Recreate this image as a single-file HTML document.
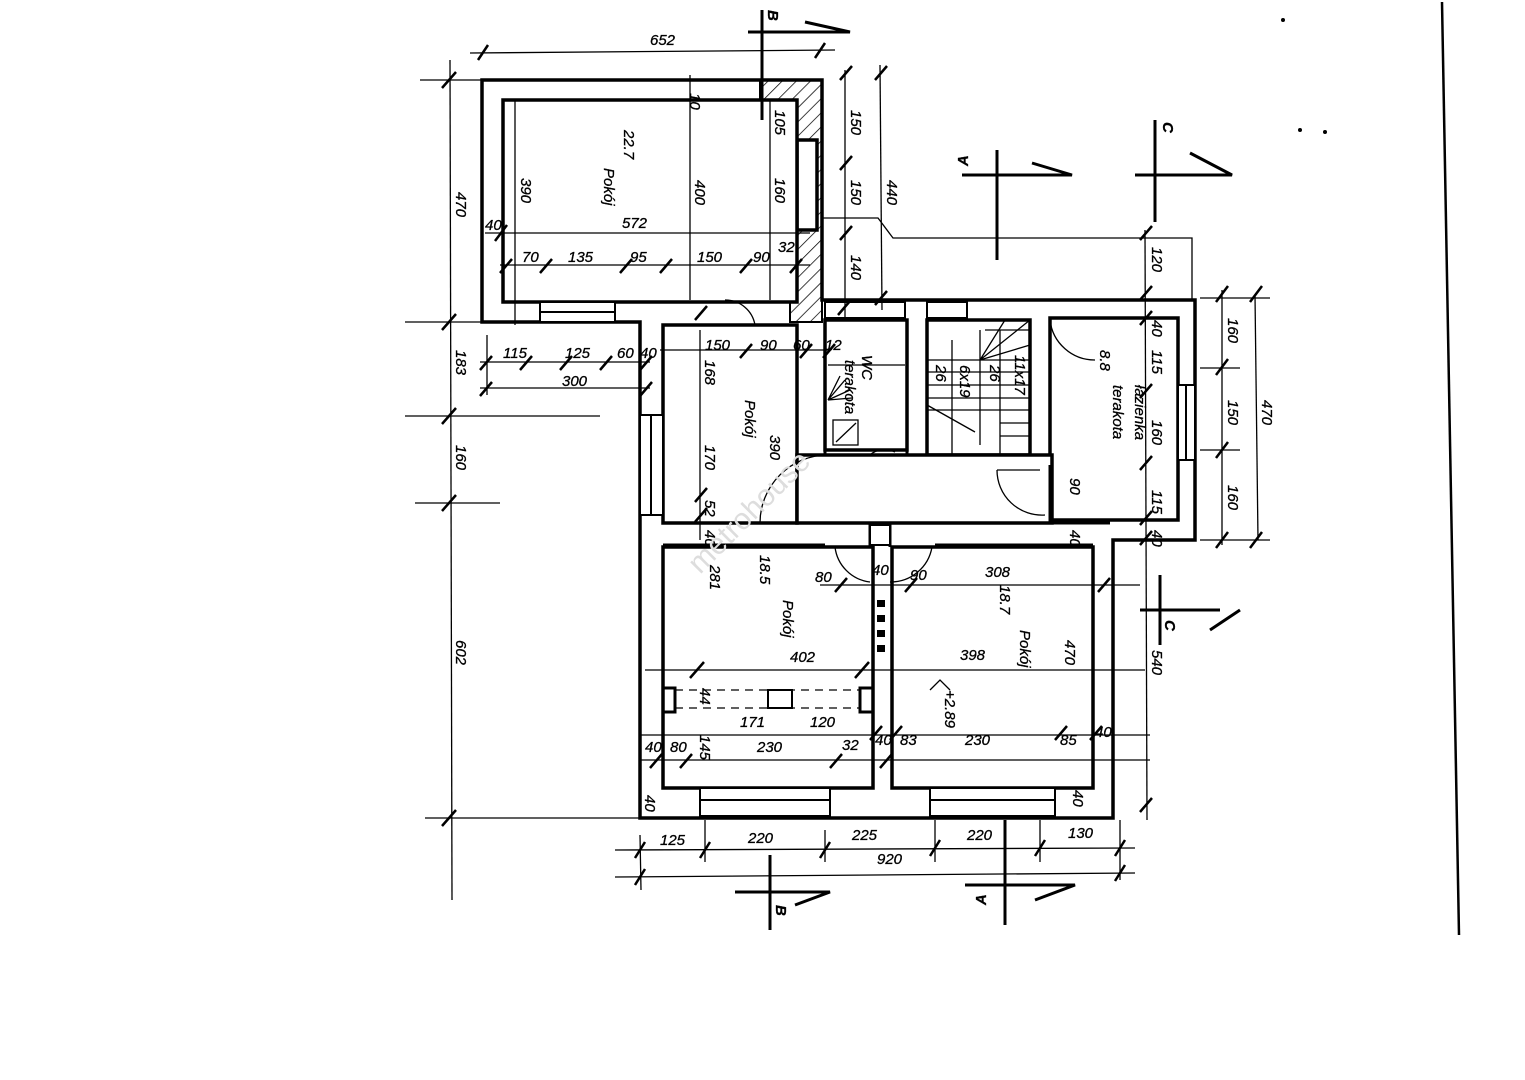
<!DOCTYPE html>
<html><head><meta charset="utf-8"><style>
html,body{margin:0;padding:0;background:#fff;}
svg{display:block;}
text{font-family:"Liberation Sans",sans-serif;font-style:italic;font-size:15px;fill:#000;stroke:#000;stroke-width:0.3;}
.w{fill:#fff;stroke:#000;stroke-width:3.5;}
.d{stroke:#000;stroke-width:1.3;fill:none;}
.t{stroke:#000;stroke-width:2.5;}
.s{stroke:#000;stroke-width:3;fill:none;}
</style></head><body>
<svg width="1525" height="1080" viewBox="0 0 1525 1080" xmlns="http://www.w3.org/2000/svg">
<defs>
<pattern id="h" width="10" height="10" patternUnits="userSpaceOnUse" patternTransform="rotate(45)">
<line x1="0" y1="0" x2="0" y2="10" stroke="#000" stroke-width="1.5"/></pattern>
</defs>
<rect width="1525" height="1080" fill="#fff"/>

<path class="d" d="M820 218 H878 L893 238 H1192 V300"/>

<path class="w" d="M482 80 H822 V300 H1195 V540 H1113 V818 H640 V322 H482 Z"/>
<path d="M760 80 H822 V322 H790 V230 H797 V100 H760 Z" fill="url(#h)" stroke="#000" stroke-width="2"/>
<rect x="797" y="140" width="20" height="90" class="w"/>
<rect class="w" x="503" y="100" width="294" height="202"/>
<rect class="w" x="663" y="325" width="134" height="198"/>
<rect class="w" x="825" y="320" width="82" height="130"/>
<rect class="w" x="927" y="320" width="103" height="135"/>
<rect class="w" x="1050" y="318" width="128" height="202"/>
<rect class="w" x="797" y="455" width="255" height="68" stroke="none"/>
<path class="s" d="M797 455 V523 H1050 M825 450 V455 H907 V450 M927 455 H1030 M1050 465 V523"/>
<rect class="w" x="663" y="547" width="210" height="241"/>
<rect class="w" x="892" y="547" width="201" height="241"/>
<rect x="663" y="525" width="430" height="20" fill="#fff"/>
<path class="s" d="M663 523 H825 M870 523 V547 M890 523 V547 M935 523 H1110 M663 545 H825 M935 545 H1093"/>
<rect x="870" y="525" width="20" height="20" fill="#fff" stroke="#000" stroke-width="2"/>
<path class="s" d="M663 688 H675 V712 H663 M873 688 H860 V712 H873"/>
<path d="M675 690 H860 M675 708 H860" stroke="#000" stroke-width="1.3" stroke-dasharray="8 6"/>
<rect x="768" y="690" width="24" height="18" fill="#fff" stroke="#000" stroke-width="2"/>
<g fill="#000"><rect x="877" y="600" width="8" height="7"/><rect x="877" y="615" width="8" height="7"/><rect x="877" y="630" width="8" height="7"/><rect x="877" y="645" width="8" height="7"/></g>

<g fill="#fff" stroke="#000" stroke-width="2">
<rect x="540" y="302" width="75" height="20"/><line x1="540" y1="312" x2="615" y2="312"/>
<rect x="640" y="415" width="23" height="100"/><line x1="651" y1="415" x2="651" y2="515"/>
<rect x="700" y="788" width="130" height="28"/><line x1="700" y1="800" x2="830" y2="800"/>
<rect x="930" y="788" width="125" height="28"/><line x1="930" y1="800" x2="1055" y2="800"/>
<rect x="1178" y="385" width="17" height="75"/><line x1="1186" y1="385" x2="1186" y2="460"/>
<rect x="825" y="302" width="80" height="16"/>
<rect x="927" y="302" width="40" height="16"/>
</g>

<g class="d" stroke-width="1.5">
<path d="M927 360 H1030 M927 372 H1030 M927 385 H1030 M927 398 H1030 M927 410 H1030 M1000 423 H1030 M1000 436 H1030"/>
<path d="M952 340 V455 M980 330 V445 M1000 330 V455 M985 330 H1030"/>
<path d="M927 405 L975 432 M980 360 L1030 320 M980 360 L1030 345 M980 360 L1005 320"/>
<rect x="833" y="420" width="25" height="25"/><line x1="836" y1="442" x2="856" y2="423"/>
<path d="M828 400 L845 380 M828 400 L850 390 M828 400 L840 376 M828 400 L852 398"/>
<path d="M828 365 H905"/>
</g>

<g class="d" stroke-width="1.5">
<path d="M797 523 H760 M760 523 A68 68 0 0 1 828 455"/>
<path d="M835 547 A40 40 0 0 0 870 582"/>
<path d="M890 582 A42 42 0 0 0 932 547"/>
<path d="M870 455 A22 22 0 0 1 895 452"/>
<path d="M1050 320 A45 45 0 0 0 1095 360"/>
<path d="M997 470 A45 45 0 0 0 1045 515 M997 470 H1040"/>
<path d="M725 300 A30 30 0 0 1 755 325"/>
</g>

<g class="d">
<line x1="470" y1="53" x2="835" y2="50"/>
<line x1="450" y1="60" x2="452" y2="900"/>
<line x1="420" y1="80" x2="485" y2="80"/><line x1="405" y1="322" x2="485" y2="322"/>
<line x1="405" y1="416" x2="600" y2="416"/><line x1="415" y1="503" x2="500" y2="503"/>
<line x1="425" y1="818" x2="640" y2="818"/>
<line x1="480" y1="362" x2="650" y2="362"/><line x1="480" y1="388" x2="650" y2="388"/>
<line x1="487" y1="335" x2="487" y2="395"/>
<line x1="485" y1="233" x2="810" y2="233"/>
<line x1="500" y1="265" x2="810" y2="265"/>
<line x1="515" y1="100" x2="515" y2="325"/>
<line x1="690" y1="75" x2="690" y2="300"/>
<line x1="770" y1="100" x2="770" y2="300"/>
<line x1="845" y1="70" x2="845" y2="320"/>
<line x1="880" y1="65" x2="882" y2="310"/>
<line x1="700" y1="330" x2="700" y2="540"/>
<line x1="660" y1="350" x2="830" y2="350"/>
<line x1="1145" y1="230" x2="1147" y2="820"/>
<line x1="1222" y1="290" x2="1222" y2="545"/>
<line x1="1255" y1="295" x2="1258" y2="540"/>
<line x1="1200" y1="298" x2="1270" y2="298"/><line x1="1200" y1="540" x2="1270" y2="540"/>
<line x1="1200" y1="368" x2="1240" y2="368"/><line x1="1200" y1="450" x2="1240" y2="450"/>
<line x1="645" y1="670" x2="1145" y2="670"/>
<line x1="640" y1="735" x2="1150" y2="735"/>
<line x1="640" y1="760" x2="1150" y2="760"/>
<line x1="820" y1="585" x2="1140" y2="585"/>
<line x1="615" y1="850" x2="1135" y2="848"/>
<line x1="615" y1="877" x2="1135" y2="873"/>
<line x1="640" y1="835" x2="641" y2="890"/><line x1="705" y1="820" x2="705" y2="862"/>
<line x1="825" y1="830" x2="825" y2="862"/><line x1="935" y1="820" x2="935" y2="862"/>
<line x1="1040" y1="820" x2="1040" y2="862"/><line x1="1120" y1="820" x2="1120" y2="880"/>
</g>
<g class="t">
<path d="M478 60 l10 -15 M815 58 l10 -15 M442 88 l14 -16 M442 330 l14 -16 M442 424 l14 -16 M442 511 l14 -16 M442 826 l14 -16
M480 370 l12 -14 M520 370 l12 -14 M560 370 l12 -14 M600 370 l12 -14 M640 370 l12 -14 M480 396 l12 -14 M640 396 l12 -14
M495 241 l12 -16 M500 273 l12 -14 M540 273 l12 -14 M620 273 l12 -14 M660 273 l12 -14 M740 273 l12 -14 M790 273 l12 -14
M840 80 l12 -14 M840 170 l12 -14 M840 240 l12 -14 M838 315 l12 -14 M875 80 l12 -14 M875 305 l12 -14
M1140 240 l12 -14 M1140 300 l12 -14 M1140 325 l12 -14 M1140 398 l12 -14 M1140 470 l12 -14 M1140 525 l12 -14 M1140 545 l12 -14 M1140 812 l12 -14
M1216 302 l12 -16 M1216 375 l12 -16 M1216 458 l12 -16 M1216 548 l12 -16 M1250 302 l12 -16 M1250 548 l12 -16
M635 858 l10 -16 M700 858 l10 -16 M820 858 l10 -16 M930 856 l10 -16 M1035 856 l10 -16 M1115 856 l10 -16 M635 885 l10 -16 M1115 881 l10 -16
M690 678 l14 -16 M855 678 l14 -16 M870 740 l12 -14 M890 740 l12 -14 M1055 740 l12 -14 M1090 740 l12 -14 M650 768 l12 -14 M680 768 l12 -14 M830 768 l12 -14 M880 768 l12 -14
M695 522 l12 -14 M695 502 l12 -14 M695 320 l12 -14 M740 358 l12 -14 M800 358 l12 -14 M823 358 l12 -14 M835 592 l12 -14 M905 592 l12 -14 M1098 592 l12 -14"/>
</g>

<g class="s">
<path d="M762 10 V120 M748 32 H850 L805 22"/>
<path d="M770 855 V930 M735 892 H830 L795 905"/>
<path d="M997 150 V260 M962 175 H1072 L1032 163"/>
<path d="M1005 820 V925 M965 885 H1075 L1035 900"/>
<path d="M1155 120 V222 M1135 175 H1232 L1190 153"/>
<path d="M1160 575 V645 M1140 610 H1220 M1240 610 L1210 630"/>
<path d="M1442 2 L1459 935" stroke-width="2.5"/>
</g>
<g style="font-style:normal;font-size:26px;font-weight:bold">
<text transform="translate(768,10) rotate(90)">B</text>
<text transform="translate(776,905) rotate(90)">B</text>
<text transform="translate(968,166) rotate(-90)">A</text>
<text transform="translate(986,905) rotate(-90)">A</text>
<text transform="translate(1163,122) rotate(90)">C</text>
<text transform="translate(1165,620) rotate(90)">C</text>
</g>

<text x="650" y="45">652</text>
<text x="503" y="358">115</text><text x="565" y="358">125</text><text x="617" y="358">60</text><text x="640" y="358">40</text>
<text x="562" y="386">300</text>
<text x="485" y="230">40</text><text x="622" y="228">572</text>
<text x="522" y="262">70</text><text x="568" y="262">135</text><text x="630" y="262">95</text><text x="697" y="262">150</text><text x="753" y="262">90</text><text x="778" y="252">32</text>
<text x="705" y="350">150</text><text x="760" y="350">90</text><text x="793" y="350">60</text><text x="825" y="350">12</text>
<text x="815" y="582">80</text><text x="872" y="575">40</text><text x="910" y="580">90</text><text x="985" y="577">308</text>
<text x="790" y="662">402</text><text x="960" y="660">398</text>
<text x="740" y="727">171</text><text x="810" y="727">120</text>
<text x="645" y="752">40</text><text x="670" y="752">80</text><text x="757" y="752">230</text><text x="842" y="750">32</text>
<text x="875" y="745">40</text><text x="900" y="745">83</text><text x="965" y="745">230</text><text x="1060" y="745">85</text><text x="1095" y="737">40</text>
<text x="660" y="845">125</text><text x="748" y="843">220</text><text x="852" y="840">225</text><text x="967" y="840">220</text><text x="1068" y="838">130</text>
<text x="877" y="864">920</text>

<g>
<text transform="translate(456,192) rotate(90)">470</text>
<text transform="translate(456,350) rotate(90)">183</text>
<text transform="translate(456,445) rotate(90)">160</text>
<text transform="translate(456,640) rotate(90)">602</text>
<text transform="translate(521,178) rotate(90)">390</text>
<text transform="translate(695,180) rotate(90)">400</text>
<text transform="translate(775,110) rotate(90)">105</text>
<text transform="translate(775,178) rotate(90)">160</text>
<text transform="translate(851,110) rotate(90)">150</text>
<text transform="translate(851,180) rotate(90)">150</text>
<text transform="translate(851,255) rotate(90)">140</text>
<text transform="translate(887,180) rotate(90)">440</text>
<text transform="translate(624,130) rotate(90)">22.7</text>
<text transform="translate(604,168) rotate(90)">Pokój</text>
<text transform="translate(690,93) rotate(90)">10</text>
<text transform="translate(705,360) rotate(90)">168</text>
<text transform="translate(705,445) rotate(90)">170</text>
<text transform="translate(745,400) rotate(90)">Pokój</text>
<text transform="translate(770,435) rotate(90)">390</text>
<text transform="translate(705,500) rotate(90)">52</text>
<text transform="translate(705,530) rotate(90)">40</text>
<text transform="translate(862,355) rotate(90)">WC</text>
<text transform="translate(845,360) rotate(90)">terakota</text>
<text transform="translate(936,365) rotate(90)">26</text>
<text transform="translate(960,365) rotate(90)">6x19</text>
<text transform="translate(990,365) rotate(90)">26</text>
<text transform="translate(1015,355) rotate(90)">11x17</text>
<text transform="translate(1100,350) rotate(90)">8.8</text>
<text transform="translate(1135,385) rotate(90)">łazienka</text>
<text transform="translate(1113,385) rotate(90)">terakota</text>
<text transform="translate(1152,247) rotate(90)">120</text>
<text transform="translate(1152,320) rotate(90)">40</text>
<text transform="translate(1152,350) rotate(90)">115</text>
<text transform="translate(1152,420) rotate(90)">160</text>
<text transform="translate(1152,490) rotate(90)">115</text>
<text transform="translate(1152,530) rotate(90)">40</text>
<text transform="translate(1070,478) rotate(90)">90</text>
<text transform="translate(1070,530) rotate(90)">40</text>
<text transform="translate(1152,650) rotate(90)">540</text>
<text transform="translate(1228,318) rotate(90)">160</text>
<text transform="translate(1228,400) rotate(90)">150</text>
<text transform="translate(1228,485) rotate(90)">160</text>
<text transform="translate(1262,400) rotate(90)">470</text>
<text transform="translate(710,565) rotate(90)">281</text>
<text transform="translate(760,555) rotate(90)">18.5</text>
<text transform="translate(783,600) rotate(90)">Pokój</text>
<text transform="translate(1000,585) rotate(90)">18.7</text>
<text transform="translate(1020,630) rotate(90)">Pokój</text>
<text transform="translate(1065,640) rotate(90)">470</text>
<text transform="translate(945,690) rotate(90)">+2.89</text>
<text transform="translate(700,688) rotate(90)">44</text>
<text transform="translate(700,735) rotate(90)">145</text>
<text transform="translate(645,795) rotate(90)">40</text>
<text transform="translate(1073,790) rotate(90)">40</text>
</g>
<path d="M930 690 L940 680 L950 690" class="d"/>
<text transform="translate(700,575) rotate(-45)" style="fill:#ddd;stroke:none;font-size:30px;font-style:normal">metrohouse</text>
<g fill="#000"><circle cx="1283" cy="20" r="2"/><circle cx="1300" cy="130" r="2"/><circle cx="1325" cy="132" r="2"/></g>
</svg>
</body></html>
